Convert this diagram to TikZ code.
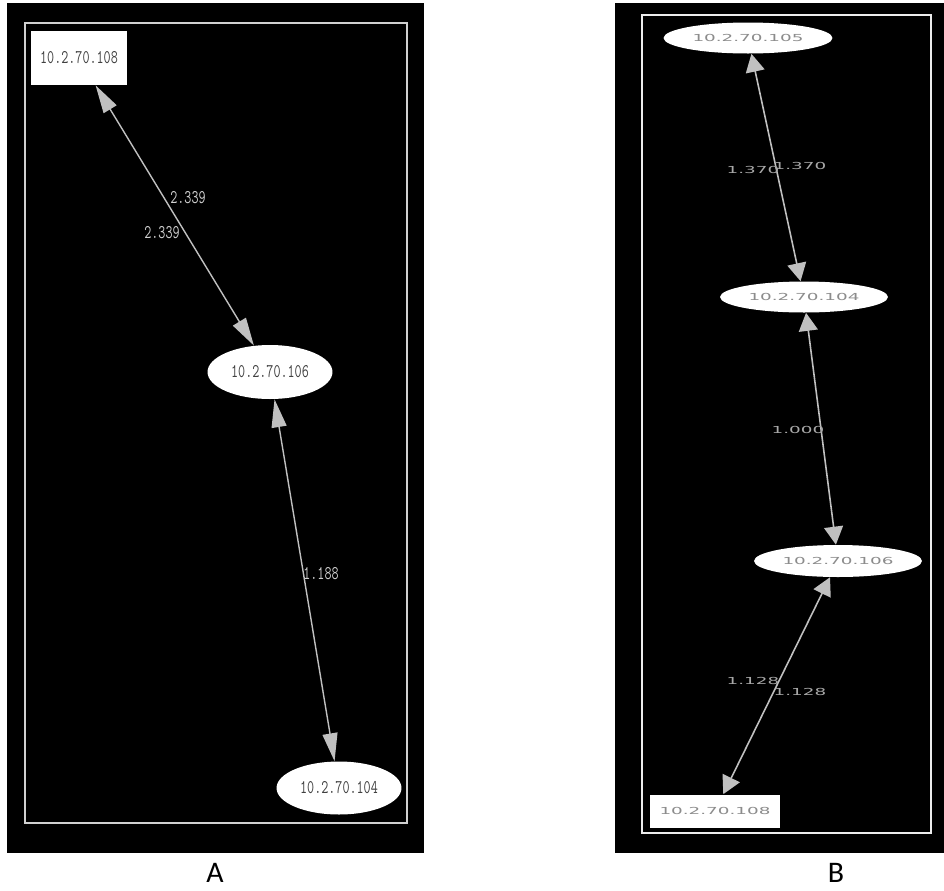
\documentclass[tikz,border=0pt]{standalone}
\usepackage{fontspec}
\usepackage{graphicx}
\usetikzlibrary{shapes.geometric,arrows.meta}
\newfontfamily\capfont{Carlito}
\newfontfamily\wideface{DejaVu Sans}
\definecolor{edgegray}{HTML}{C0C0C0}
\definecolor{labgray}{HTML}{D0D0D0}
\definecolor{labgrayb}{HTML}{A8A8A8}
\definecolor{txtgray}{HTML}{404040}
\definecolor{txtgrayb}{HTML}{8C8C8C}
\newcommand{\atext}[1]{\scalebox{0.71}[1]{\ttfamily\fontsize{11}{12}\selectfont #1}}
\newcommand{\btext}[1]{\scalebox{1.9}[1]{\wideface\fontsize{5.5}{6}\selectfont #1}}
\begin{document}
\begin{tikzpicture}[x=0.02cm,y=-0.02cm,
  anode/.style={fill=white,draw=none,inner sep=0pt,text=txtgray},
  bnode/.style={fill=white,draw=none,inner sep=0pt,text=txtgrayb},
  alink/.style={{Triangle[length=0.56cm,width=0.3cm,fill=edgegray]}-{Triangle[length=0.56cm,width=0.3cm,fill=edgegray]},draw=edgegray,line width=0.8pt},
  blink/.style={{Triangle[length=0.36cm,width=0.38cm,fill=edgegray]}-{Triangle[length=0.36cm,width=0.38cm,fill=edgegray]},draw=edgegray,line width=0.9pt},
  alabel/.style={text=labgray,inner sep=0pt},
  blabel/.style={text=labgrayb,inner sep=0pt},
  caption/.style={font=\capfont\fontsize{17}{19}\selectfont,inner sep=1pt}]
\useasboundingbox[fill=white] (0,0) rectangle (944,890);

% panel A
\fill[black] (7,3) rectangle (424,853);
\draw[labgray,line width=1.1pt] (25,23) rectangle (407,823);
\node[anode,rectangle,minimum width=1.92cm,minimum height=1.08cm] (a108) at (79,58) {\atext{10.2.70.108}};
\node[anode,ellipse,minimum width=2.5cm,minimum height=1.08cm] (a106) at (270,372) {\atext{10.2.70.106}};
\node[anode,ellipse,minimum width=2.5cm,minimum height=1.06cm] (a104) at (339,788) {\atext{10.2.70.104}};

\draw[alink] (a108) -- (a106);
\draw[alink] (a106) -- (a104);

\node[alabel] (la1) at (188,198) {\atext{2.339}};
\node[alabel] (la2) at (162,233) {\atext{2.339}};
\node[alabel] (la3) at (321,574) {\atext{1.188}};

% panel B
\fill[black] (615,3) rectangle (944,853);
\draw[gray!75,line width=0.5pt,double=gray!15,double distance=0.6pt] (642,15) rectangle (931,833);
\node[bnode,ellipse,minimum width=3.38cm,minimum height=0.62cm] (b105) at (748,38) {\btext{10.2.70.105}};
\node[bnode,ellipse,minimum width=3.36cm,minimum height=0.62cm] (b104) at (804,297) {\btext{10.2.70.104}};
\node[bnode,ellipse,minimum width=3.36cm,minimum height=0.64cm] (b106) at (838,561) {\btext{10.2.70.106}};
\node[bnode,rectangle,minimum width=2.6cm,minimum height=0.66cm] (b108) at (715,811) {\btext{10.2.70.108}};

\draw[blink] (b105) -- (b104);
\draw[blink] (b104) -- (b106);
\draw[blink] (b106) -- (b108);

\node[blabel] (lb1) at (753,170) {\btext{1.370}};
\node[blabel] (lb2) at (800,166) {\btext{1.370}};
\node[blabel] (lb3) at (798,430) {\btext{1.000}};
\node[blabel] (lb4) at (753,681) {\btext{1.128}};
\node[blabel] (lb5) at (800,692) {\btext{1.128}};

% captions
\node[caption] (capa) at (215,873) {A};
\node[caption] (capb) at (836,873) {B};
\end{tikzpicture}
\end{document}
